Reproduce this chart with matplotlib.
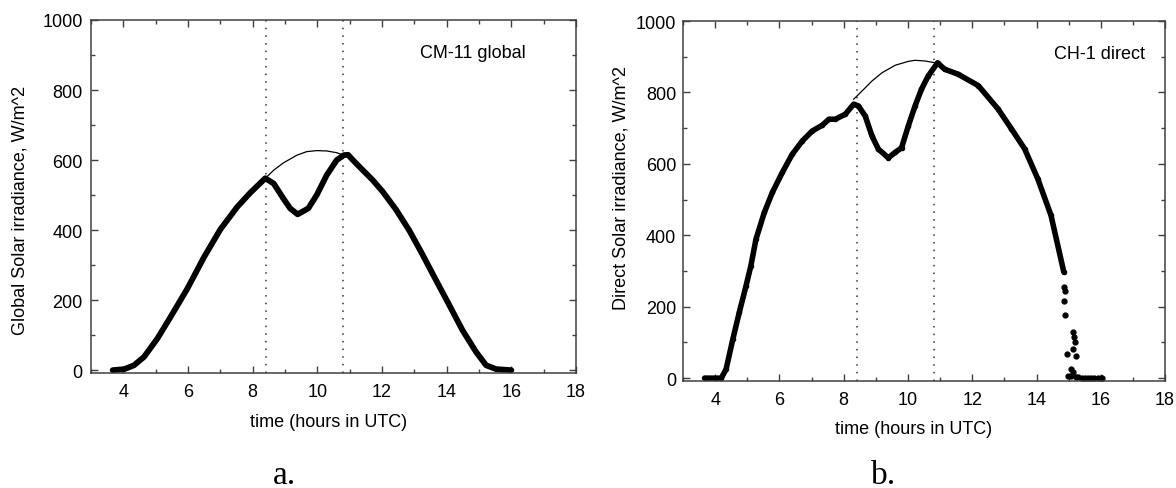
import matplotlib
matplotlib.use("Agg")
import matplotlib.pyplot as plt
from matplotlib.ticker import MultipleLocator

plt.rcParams["font.family"] = ["Liberation Sans", "DejaVu Sans"]

# --- data ---
# a. CM-11 global irradiance (W/m^2) vs time (hours UTC)
global_t = [3.67, 4.03, 4.33, 4.64, 5.05, 5.46, 5.98, 6.49, 7.0, 7.52, 7.93, 8.39,
            8.65, 8.95, 9.16, 9.39, 9.72, 9.98, 10.29, 10.6, 10.82, 10.95, 11.1,
            11.3, 11.71, 12.02, 12.43, 12.85, 13.26, 13.67, 14.08, 14.49, 14.91,
            15.22, 15.53, 16.0]
global_v = [0, 3, 14, 38, 90, 152, 233, 322, 402, 466, 507, 548,
            533, 490, 462, 445, 462, 500, 557, 600, 614, 615, 600,
            581, 543, 510, 459, 398, 329, 257, 186, 114, 52,
            14, 3, 0]
# clear-sky interpolation over the eclipse window
global_clear_t = [8.39, 8.65, 8.95, 9.37, 9.67, 9.98, 10.29, 10.6, 10.82]
global_clear_v = [548, 571, 592, 614, 624, 627, 626, 621, 614]

# b. CH-1 direct irradiance
direct_t = [3.67, 4.19, 4.34, 4.55, 4.75, 4.96, 5.11, 5.27, 5.53, 5.78, 6.09, 6.40,
            6.71, 7.02, 7.33, 7.54, 7.74, 8.05, 8.31, 8.46, 8.67, 8.88, 9.08, 9.39,
            9.60, 9.80, 10.01, 10.22, 10.42, 10.63, 10.92, 11.14, 11.56, 12.19,
            12.80, 13.22, 13.63, 14.04, 14.45, 14.85]
direct_v = [0, 0, 25, 109, 184, 258, 314, 389, 464, 520, 576, 627,
            664, 692, 708, 725, 725, 739, 767, 762, 734, 678, 641, 617,
            632, 645, 706, 762, 809, 846, 883, 865, 851, 819,
            754, 698, 642, 558, 456, 297]
# scattered points at the end of the day
tail_t = [14.87, 14.89, 14.87, 14.90, 15.15, 15.18, 15.20, 15.12, 14.95, 15.24,
          15.07, 15.15, 14.97, 15.07, 15.22, 15.30, 15.40, 15.50, 15.60, 15.70,
          15.80, 15.90, 16.00, 16.05]
tail_v = [255, 245, 215, 176, 129, 115, 100, 82, 68, 63,
          26, 17, 5, 5, 3, 2, 1, 1, 1, 1,
          1, 1, 1, 1]
direct_clear_t = [8.31, 8.57, 8.88, 9.19, 9.60, 10.01, 10.22, 10.53, 10.92]
direct_clear_v = [781, 804, 832, 855, 876, 887, 890, 888, 882]

eclipse_lines = [8.4, 10.8]

fig = plt.figure(figsize=(11.76, 4.89), dpi=100)
ax1 = fig.add_axes([0.0774, 0.2352, 0.4124, 0.7219])
ax2 = fig.add_axes([0.5808, 0.2188, 0.4099, 0.7362])

spine_col = "#404040"


def style(ax, pad_y):
    ax.set_xlim(3, 18)
    ax.set_ylim(-8, 1000)
    ax.xaxis.set_major_locator(MultipleLocator(2))
    ax.xaxis.set_minor_locator(MultipleLocator(1))
    ax.yaxis.set_major_locator(MultipleLocator(200))
    ax.yaxis.set_minor_locator(MultipleLocator(100))
    ax.tick_params(which="both", direction="in", top=True, right=True,
                   color=spine_col, width=1, labelsize=13)
    ax.tick_params(which="major", length=5)
    ax.tick_params(which="minor", length=3)
    ax.tick_params(axis="x", pad=7)
    ax.tick_params(axis="y", pad=pad_y)
    for s in ax.spines.values():
        s.set_color(spine_col)
        s.set_linewidth(1.1)
    for x in eclipse_lines:
        ax.axvline(x, color="#333333", lw=1.1, linestyle=(0, (1, 4)))


# --- panel a ---
style(ax1, 6)
ax1.plot(global_t, global_v, color="black", lw=4.2, solid_capstyle="round",
         solid_joinstyle="round")
ax1.plot(global_clear_t, global_clear_v, color="black", lw=0.9)
ax1.text(0.788, 0.909, "CM-11 global", transform=ax1.transAxes,
         ha="center", va="center", fontsize=13)
ax1.set_xlabel("time (hours in UTC)", fontsize=13)
ax1.set_ylabel("Global Solar irradiance, W/m^2", fontsize=13)
ax1.xaxis.set_label_coords(0.489, -0.113)
ax1.yaxis.set_label_coords(-0.128, 0.462)

# --- panel b ---
style(ax2, 5)
ax2.plot(direct_t, direct_v, color="black", lw=4, marker="o", ms=3,
         solid_capstyle="round", solid_joinstyle="round")
ax2.plot(tail_t, tail_v, color="black", linestyle="none", marker="o", ms=3.5)
ax2.plot(direct_clear_t, direct_clear_v, color="black", lw=0.9)
ax2.text(0.865, 0.911, "CH-1 direct", transform=ax2.transAxes,
         ha="center", va="center", fontsize=13)
ax2.set_xlabel("time (hours in UTC)", fontsize=13)
ax2.set_ylabel("Direct Solar irradiance, W/m^2", fontsize=13)
ax2.xaxis.set_label_coords(0.479, -0.108)
ax2.yaxis.set_label_coords(-0.112, 0.539)

fig.text(284 / 1176, 1 - 476 / 489, "a.", ha="center", va="center",
         fontsize=24, family="Liberation Serif")
fig.text(884 / 1176, 1 - 476 / 489, "b.", ha="center", va="center",
         fontsize=24, family="Liberation Serif")

fig.savefig("out.png", dpi=100)
